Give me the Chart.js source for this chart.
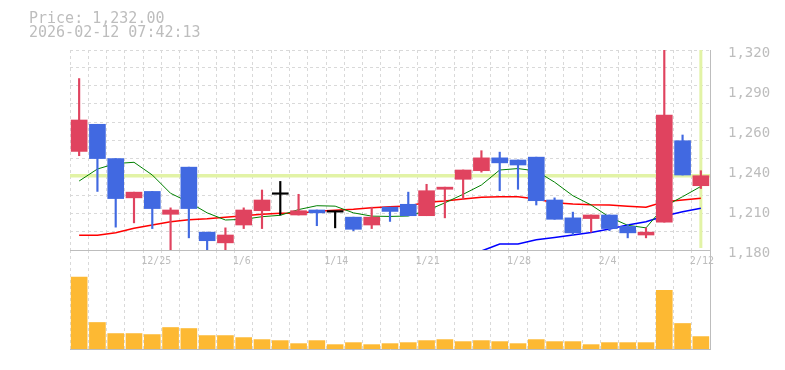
<!DOCTYPE html>
<html><head><meta charset="utf-8">
<script src="https://cdn.jsdelivr.net/npm/chart.js@4.4.1/dist/chart.umd.min.js"></script>
<style>
html,body{margin:0;padding:0;background:#fff;}
#wrap{position:relative;width:785px;height:370px;overflow:hidden;background:#fff;}
canvas{position:absolute;left:0;top:0;}
.hdr{position:absolute;left:29px;font-family:"DejaVu Sans Mono",monospace;font-size:15px;color:#bdbdbd;line-height:15px;white-space:pre;}
</style></head><body>
<div id="wrap">
<canvas id="vol" width="785" height="370"></canvas>
<canvas id="price" width="785" height="370"></canvas>
<div class="hdr" id="h1" style="top:10.5px"></div>
<div class="hdr" id="h2" style="top:25px"></div>
</div>
<script>
// ---- data ----
const priceText = 'Price: 1,232.00';
const timeText = '2026-02-12 07:42:13';
const currentPrice = 1232;

const dates = ['12/19','12/22','12/23','12/24','12/25','12/26','12/29','12/30','1/5','1/6','1/7','1/8','1/9','1/13','1/14','1/15','1/16','1/19','1/20','1/21','1/22','1/23','1/26','1/27','1/28','1/29','1/30','2/2','2/3','2/4','2/5','2/6','2/9','2/10','2/12'];
const xTickLabels = ['12/25','1/6','1/14','1/21','1/28','2/4','2/12'];
const priceTickLabels = ['1,180','1,210','1,240','1,260','1,290','1,320'];

const opens  = [1249,1268,1244,1216.5,1221,1205,1238,1192.5,1185,1197.5,1207.5,1219,1204.5,1208,1206.5,1203,1197.5,1210,1212,1204,1222.5,1229.5,1235.5,1244.5,1243,1245,1215,1202.5,1202,1204.5,1196.5,1190.5,1199.5,1256.5,1225];
const highs  = [1300,1268,1244,1220.5,1221,1209.5,1238,1192.5,1195.5,1209.5,1222,1228,1219,1208,1206.5,1203,1210,1210,1220.5,1226,1224,1236,1249.5,1248.5,1243,1245,1216.5,1206.5,1204.5,1204.5,1198,1195.5,1325,1260.5,1235.5];
const lows   = [1246,1221,1196,1199,1195,1178,1188.5,1178,1178,1195,1195,1204.5,1204.5,1197,1195.5,1193.5,1195,1200,1204,1204,1202.5,1215.5,1234.5,1221.5,1222.5,1211.5,1201.5,1190.5,1192.5,1193.5,1188.5,1188.5,1199.5,1232.5,1223];
const closes = [1271,1244,1216,1220.5,1209,1208,1209,1186.5,1190.5,1208,1215,1219,1207.5,1206,1206.5,1194.5,1203,1207,1204,1221.5,1224,1236,1244.5,1241,1239.5,1214.5,1201.5,1192,1204.5,1195,1192,1192.5,1274.5,1232.5,1232];

const maShort = [1228.3,1236.7,1240.5,1241.4,1232.5,1219.7,1213.5,1206,1201,1201.5,1203.3,1204.3,1208.3,1211,1210.7,1206,1203.7,1203.5,1203.8,1207.5,1213,1219,1225.5,1236,1237,1235.3,1227.5,1218,1211.5,1203,1197.3,1195.5,1210.5,1217.3,1224.5];
const maMid   = [1190.3,1190.3,1192.1,1195.2,1197.5,1199.8,1201.2,1201.9,1202.9,1204,1205,1205.7,1205.7,1207.1,1207.8,1208.5,1209.6,1210.3,1210.8,1213.4,1214.3,1215.7,1216.9,1217.3,1217.3,1215.7,1213.1,1212.2,1211.7,1211.5,1210.6,1209.9,1213.8,1215,1216.2];
const maLong  = [null,null,null,null,null,null,null,null,null,null,null,null,null,null,null,null,null,null,null,null,null,null,1179.3,1184.2,1184.2,1187.2,1188.8,1190.5,1192.3,1194.7,1197.5,1199.8,1203.8,1206.8,1209.2];

const volumes = [21400,7900,4600,4600,4300,6400,6100,4000,4000,3400,2800,2500,1600,2500,1300,1900,1300,1600,1900,2500,2800,2200,2500,2200,1600,2800,2200,2200,1300,1900,1900,1900,17500,7600,3700];

// ---- styling ----
document.getElementById('h1').textContent = priceText;
document.getElementById('h2').textContent = timeText;

const UP = '#e0435f', DOWN = '#4169e1', EVEN = '#000000';
const GRID = '#d9d9d9', AXIS = '#bdbdbd', TXT = '#bdbdbd';
const MONO = '"DejaVu Sans Mono", monospace';
const candleColors = opens.map((o, i) => closes[i] > o ? UP : (closes[i] < o ? DOWN : EVEN));

const markerPlugin = {
  id: 'marker',
  beforeDatasetsDraw(chart) {
    const {ctx, chartArea: a, scales} = chart;
    const py = scales.y.getPixelForValue(currentPrice);
    const px = scales.x.getPixelForValue(dates.length - 1);
    ctx.save();
    ctx.strokeStyle = '#e2f3a6';
    ctx.lineWidth = 3.5;
    ctx.beginPath(); ctx.moveTo(a.left, py); ctx.lineTo(a.right, py); ctx.stroke();
    ctx.lineWidth = 3;
    ctx.beginPath(); ctx.moveTo(px, a.top); ctx.lineTo(px, a.bottom - 2); ctx.stroke();
    ctx.restore();
  }
};

new Chart(document.getElementById('price'), {
  type: 'bar',
  data: {
    labels: dates,
    datasets: [
      { label: 'body', data: opens.map((o, i) => [o, closes[i]]), backgroundColor: candleColors,
        barThickness: 16, minBarLength: 1.5, grouped: false, order: 0, borderWidth: 0 },
      { label: 'wick', data: lows.map((l, i) => [l, highs[i]]), backgroundColor: candleColors,
        barThickness: 1.5, grouped: false, order: 1, borderWidth: 0 },
      { type: 'line', label: 'MA short', data: maShort, borderColor: '#008000', borderWidth: 1,
        pointRadius: 0, tension: 0, order: 2 },
      { type: 'line', label: 'MA mid', data: maMid, borderColor: '#ff0000', borderWidth: 1.6,
        pointRadius: 0, tension: 0, order: 3 },
      { type: 'line', label: 'MA long', data: maLong, borderColor: '#0000ff', borderWidth: 1.6,
        pointRadius: 0, tension: 0, order: 4 }
    ]
  },
  options: {
    responsive: false, animation: false,
    layout: { autoPadding: false, padding: { left: 70, top: 50, right: 0, bottom: 0 } },
    plugins: { legend: { display: false }, tooltip: { enabled: false } },
    scales: {
      x: {
        offset: true,
        grid: { offset: true, color: GRID, lineWidth: 1, drawTicks: false },
        border: { display: true, color: AXIS, width: 1, dash: [3, 3] },
        ticks: {
          autoSkip: false, maxRotation: 0, minRotation: 0, align: 'start', labelOffset: -11,
          padding: 5, color: TXT, font: { family: MONO, size: 10 },
          callback: (v, i) => xTickLabels.includes(dates[i]) ? dates[i] : ''
        },
        afterFit: (s) => { s.height = 120; }
      },
      y: {
        position: 'right', min: 1180, max: 1320,
        grid: { display: false },
        border: { display: true, color: AXIS, width: 1 },
        ticks: { stepSize: 28, padding: 10, labelOffset: 3, color: TXT, font: { family: MONO, size: 14 },
          callback: (v, i) => priceTickLabels[i] },
        afterFit: (s) => { s.width = 75; }
      },
      yg: {
        position: 'left', min: 0, max: 10.9375,
        ticks: { display: false, stepSize: 1 },
        grid: { color: GRID, lineWidth: 1, drawTicks: false },
        border: { display: false, dash: [3, 3] },
        afterFit: (s) => { s.width = 0; }
      }
    }
  },
  plugins: [markerPlugin]
});

new Chart(document.getElementById('vol'), {
  type: 'bar',
  data: {
    labels: dates,
    datasets: [
      { label: 'volume', data: volumes, backgroundColor: '#fdb933', barThickness: 16, borderWidth: 0 }
    ]
  },
  options: {
    responsive: false, animation: false,
    layout: { autoPadding: false, padding: { left: 70, top: 250, right: 0, bottom: 0 } },
    plugins: { legend: { display: false }, tooltip: { enabled: false } },
    scales: {
      x: {
        offset: true,
        grid: { offset: true, color: GRID, lineWidth: 1, drawTicks: false },
        border: { display: true, color: AXIS, width: 1, dash: [3, 3] },
        ticks: { display: false },
        afterFit: (s) => { s.height = 21; }
      },
      y: {
        position: 'right', min: 0, max: 29500,
        grid: { display: false },
        border: { display: true, color: AXIS, width: 1 },
        ticks: { display: false },
        afterFit: (s) => { s.width = 75; }
      }
    }
  }
});
</script>
</body></html>
